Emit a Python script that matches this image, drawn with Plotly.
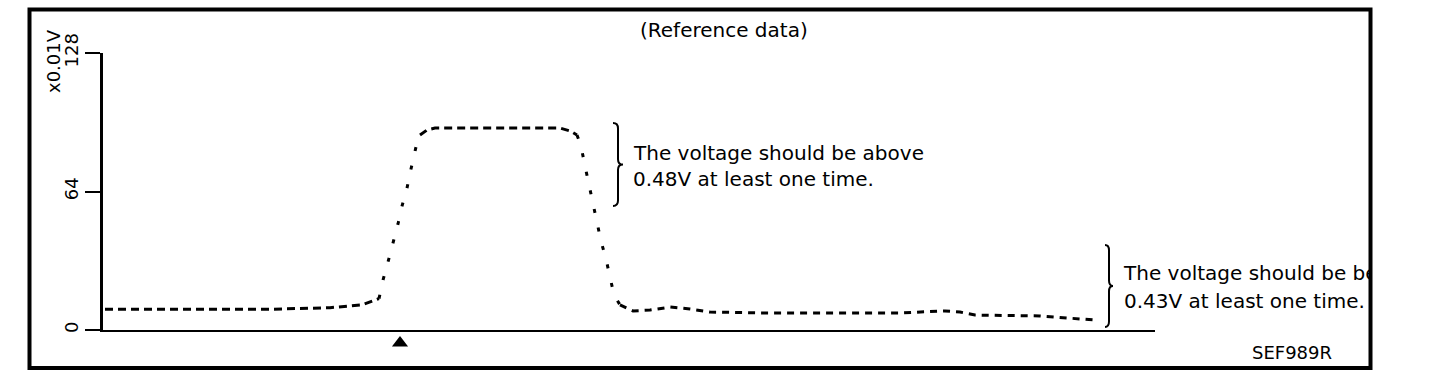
import plotly.graph_objects as go

# ---- data (time in arbitrary units, voltage in x0.01V) ----
t = [0.2, 16.7, 22.7, 25.9, 27.6, 28.0, 28.5, 29.0, 29.5, 29.9, 30.4, 30.8, 31.3, 31.7,
     32.4, 33.2, 45.7, 46.7, 47.4, 47.8, 48.2, 48.6, 49.0, 49.4, 49.8, 50.3, 50.7, 51.1,
     51.7, 53.0, 54.7, 56.7, 58.7, 60.7, 65.7, 79.7, 84.2, 85.7, 87.2, 93.7, 99.2]
v = [9.6, 9.6, 10.3, 11.6, 14.5, 23.1, 31.4, 39.7, 49.0, 57.3, 65.6, 74.4, 84.6, 90.1,
     92.4, 93.3, 93.3, 92.0, 90.1, 85.0, 75.8, 67.5, 58.7, 49.9, 41.1, 32.8, 24.0, 16.2,
     11.6, 8.8, 9.2, 10.6, 9.7, 8.3, 7.9, 7.9, 8.8, 8.3, 6.9, 6.5, 4.6]

y_ticks = [0, 64, 128]
y_tick_text = ["0", "64", "128"]
y_unit = "x0.01V"
title_text = "(Reference data)"
code_text = "SEF989R"

trigger_t = [29.7]
trigger_v = [-6.0]

note1_lines = ["The voltage should be above", "0.48V at least one time."]
note1_t = 52.8
note1_v = [81.8, 69.8]
brace1 = (51.0, 52.0, 95.6, 57.3)

note2_lines = ["The voltage should be below", "0.43V at least one time."]
note2_t = 102.1
note2_v = [25.4, 12.5]
brace2 = (100.2, 101.0, 39.3, 1.4)

# segments of the trace and their dash styles (flat parts dashed, steep parts dotted)
segments = [(0, 4), (4, 13), (13, 18), (18, 28), (28, len(t) - 1)]
seg_dash = ["8px,5px", "4px,15px", "8px,5px", "4px,15px", "7px,6px"]

FONT = "DejaVu Sans"
W, H = 1456, 380
L, R, T, B = 103, 87, 53, 25
AXIS_BOTTOM = 330          # pixel row of the value 0
PW = W - L - R
PH = H - T - B
Y_MAX = 128
PX_PER_V = (AXIS_BOTTOM - T) / Y_MAX
X_MAX = 105.2
X2_MAX = PW / 10.0
Y2_MIN = -(H - B - AXIS_BOTTOM) / PX_PER_V

fig = go.Figure()

for (a, b), d in zip(segments, seg_dash):
    fig.add_trace(go.Scatter(
        x=t[a:b + 1], y=v[a:b + 1], mode="lines",
        line=dict(color="black", width=3, dash=d),
        hoverinfo="skip", showlegend=False))

# second (invisible) subplot: holds the trigger mark below the axis and
# the right note, which is clipped at the frame
fig.add_trace(go.Scatter(
    x=trigger_t, y=trigger_v, mode="markers",
    marker=dict(symbol="triangle-up", size=14, color="black"),
    xaxis="x2", yaxis="y2", showlegend=False, hoverinfo="skip"))

fig.add_trace(go.Scatter(
    x=[note2_t] * len(note2_lines), y=note2_v, mode="text", text=note2_lines,
    textposition="middle right", textfont=dict(family=FONT, size=20, color="black"),
    xaxis="x2", yaxis="y2", cliponaxis=True, showlegend=False, hoverinfo="skip"))


def brace_path(x0, x1, ytop, ybot, r=2.5):
    xm = (x0 + x1) / 2
    ym = (ytop + ybot) / 2
    return (f"M {x0},{ytop} Q {xm},{ytop} {xm},{ytop - r} L {xm},{ym + r} "
            f"Q {xm},{ym} {x1},{ym} Q {xm},{ym} {xm},{ym - r} L {xm},{ybot + r} "
            f"Q {xm},{ybot} {x0},{ybot}")


shapes = []
for br in (brace1, brace2):
    shapes.append(dict(type="path", xref="x", yref="y", path=brace_path(*br),
                       line=dict(color="black", width=2)))

# outer frame
px = lambda p: (p - L) / PW
py = lambda p: (H - B - p) / PH
shapes.append(dict(type="rect", xref="paper", yref="paper",
                   x0=px(29.5), x1=px(1370.5), y0=py(368), y1=py(9.5),
                   line=dict(color="black", width=4), layer="above"))

annotations = [
    dict(text=title_text, xref="paper", yref="paper", x=px(723.5), y=py(30.5),
         xanchor="center", yanchor="middle", showarrow=False,
         font=dict(family=FONT, size=20, color="black")),
    dict(text=code_text, xref="paper", yref="paper", x=px(1292), y=py(352),
         xanchor="center", yanchor="middle", showarrow=False,
         font=dict(family=FONT, size=18, color="black")),
    dict(text=y_unit, xref="paper", yref="paper", x=px(53), y=py(61),
         xanchor="center", yanchor="middle", showarrow=False, textangle=-90,
         font=dict(family=FONT, size=18, color="black")),
]
for line, yv in zip(note1_lines, note1_v):
    annotations.append(dict(text=line, xref="x", yref="y", x=note1_t, y=yv,
                            xanchor="left", yanchor="middle", showarrow=False,
                            font=dict(family=FONT, size=20, color="black")))

fig.update_layout(
    width=W, height=H,
    margin=dict(l=L, r=R, t=T, b=B, pad=0),
    paper_bgcolor="white", plot_bgcolor="rgba(0,0,0,0)",
    showlegend=False,
    shapes=shapes, annotations=annotations,
    xaxis=dict(domain=[0, X_MAX * 10 / PW], range=[0, X_MAX], anchor="y",
               showline=True, linecolor="black", linewidth=2,
               showgrid=False, zeroline=False, showticklabels=False, ticks=""),
    yaxis=dict(domain=[(H - B - AXIS_BOTTOM) / PH, 1], range=[0, Y_MAX], anchor="x",
               showline=True, linecolor="black", linewidth=3,
               showgrid=False, zeroline=False,
               ticks="outside", ticklen=15, tickwidth=1.5, tickcolor="black",
               tickvals=y_ticks, ticktext=y_tick_text, tickangle=-90,
               tickfont=dict(family=FONT, size=18, color="black")),
    xaxis2=dict(domain=[0, 1], range=[0, X2_MAX], anchor="y2", visible=False),
    yaxis2=dict(domain=[0, 1], range=[Y2_MIN, Y_MAX], anchor="x2", visible=False),
)

fig.write_html("out.html")
